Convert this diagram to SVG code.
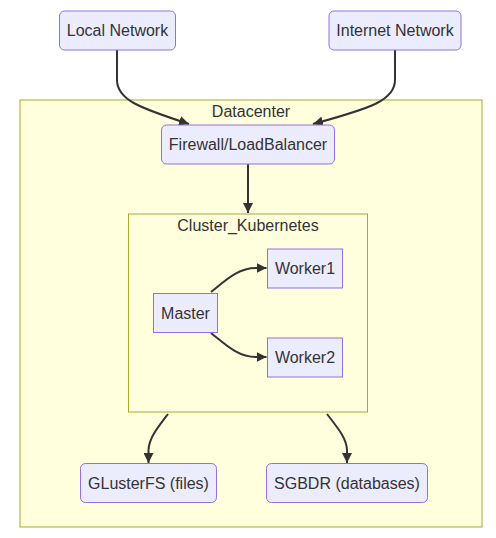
<svg xmlns="http://www.w3.org/2000/svg" width="496" height="538" viewBox="0 0 496 538">
<style>
.node rect{fill:#ECECFF;stroke:#9370DB;stroke-width:1}
.cluster rect{fill:#ffffde;stroke:#aaaa33;stroke-width:1}
text{font-family:"Liberation Sans",Arial,sans-serif;font-size:16px;fill:#333;text-anchor:middle;dominant-baseline:central}
.edges path{fill:none;stroke:#333;stroke-width:2}
</style>
<defs>
<marker id="arrow" viewBox="0 0 10 10" refX="10" refY="5" markerUnits="userSpaceOnUse" markerWidth="10" markerHeight="10" orient="auto">
<path d="M0,0 L10,5 L0,10 z" fill="#333"/>
</marker>
</defs>
<rect width="496" height="538" fill="#fff"/>
<g id="Datacenter" class="cluster">
<rect x="20" y="100" width="462" height="427"/>
<text x="251" y="111">Datacenter</text>
</g>
<g id="Cluster_Kubernetes" class="cluster">
<rect x="128.5" y="214" width="239" height="198"/>
<text x="248" y="225">Cluster_Kubernetes</text>
</g>
<g class="edges">
<path d="M117,50 L117,80 C117,100 140,108 189,124" marker-end="url(#arrow)"/>
<path d="M395,50 L395,80 C395,100 372,108 313,124" marker-end="url(#arrow)"/>
<path d="M248,164 L248,213" marker-end="url(#arrow)"/>
<path d="M211,292 C226,280 238,268 256,268 L266.5,268" marker-end="url(#arrow)"/>
<path d="M211,333 C226,345 238,357 256,357 L266.5,357" marker-end="url(#arrow)"/>
<path d="M168,414 C158,427 149,438 148.5,450 L148.5,463" marker-end="url(#arrow)"/>
<path d="M327,414 C337,427 346.5,438 347,450 L347,463" marker-end="url(#arrow)"/>
</g>
<g id="LocalNetwork" class="node">
<rect x="59.5" y="11" width="116" height="39" rx="5"/>
<text x="117.5" y="30.5">Local Network</text>
</g>
<g id="InternetNetwork" class="node">
<rect x="329" y="11" width="132" height="39" rx="5"/>
<text x="395" y="30.5">Internet Network</text>
</g>
<g id="Firewall" class="node">
<rect x="161.5" y="125" width="173" height="39" rx="5"/>
<text x="248" y="144.5">Firewall/LoadBalancer</text>
</g>
<g id="Master" class="node">
<rect x="153.5" y="293.5" width="64" height="39"/>
<text x="185.5" y="313">Master</text>
</g>
<g id="Worker1" class="node">
<rect x="267.5" y="249" width="75" height="39"/>
<text x="305" y="268.5">Worker1</text>
</g>
<g id="Worker2" class="node">
<rect x="267.5" y="338" width="75" height="39"/>
<text x="305" y="357.5">Worker2</text>
</g>
<g id="GlusterFS" class="node">
<rect x="80.5" y="463.5" width="136" height="39" rx="5"/>
<text x="148.5" y="483">GLusterFS (files)</text>
</g>
<g id="SGBDR" class="node">
<rect x="266.5" y="463.5" width="161" height="39" rx="5"/>
<text x="347" y="483">SGBDR (databases)</text>
</g>
</svg>
